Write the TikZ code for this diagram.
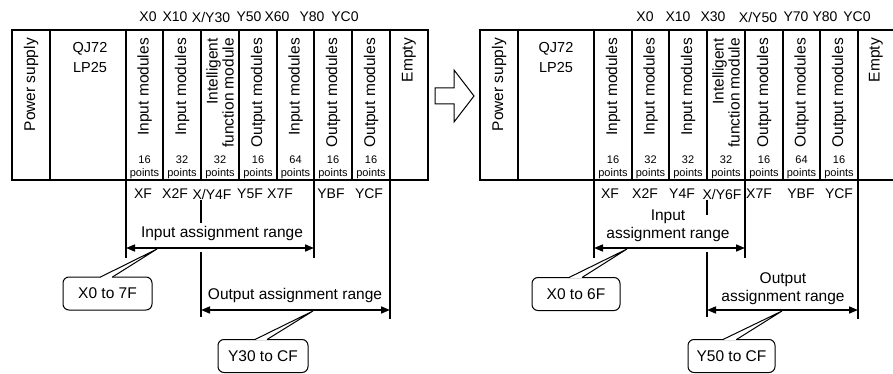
\documentclass[tikz,border=0pt]{standalone}
\usepackage{fontspec}
\setmainfont{Liberation Sans}
\usetikzlibrary{arrows.meta,calc}
\begin{document}
\begin{tikzpicture}[x=1pt,y=-1pt,
  rack/.style={line width=1.3pt},
  mod/.style={rotate=90, anchor=east, inner sep=0pt, align=right, font=\fontsize{15.5}{16}\selectfont},
  cpu/.style={inner sep=0pt, align=center, font=\fontsize{14.5}{20}\selectfont},
  addr/.style={inner sep=0pt, font=\fontsize{14}{16}\selectfont},
  pts/.style={inner sep=0pt, anchor=south, align=center, font=\fontsize{11}{13.5}\selectfont},
  rng/.style={line width=1.6pt},
  rarrow/.style={line width=1.6pt, {Triangle[length=9pt,width=7pt]}-{Triangle[length=9pt,width=7pt]}},
  rtext/.style={inner sep=0pt, align=center, font=\fontsize{15.5}{18}\selectfont},
  callout/.style={draw, rounded corners=6pt, line width=1pt, fill=white, outer sep=0pt,
    minimum height=33pt, font=\fontsize{15.5}{18}\selectfont},
  tail/.style={line width=1pt, line join=miter},
  gap/.style={white, line width=1.8pt}
]
\useasboundingbox (0,0) rectangle (893,374);

% ---------- left rack ----------
\draw[rack] (12,30) rectangle (428,180);
\foreach \x in {50,126,163,201,239,277,314,352,390} \draw[rack] (\x,30) -- (\x,180);
\node[mod] (lps) at (31,38) {Power supply};
\node[cpu] (lcpu) at (90,58) {QJ72\\LP25};
\node[mod] (lm1) at (144.5,38) {Input modules};
\node[mod] (lm2) at (182,38) {Input modules};
\node[mod] (lm3) at (220,38) {Intelligent\\function module};
\node[mod] (lm4) at (258,38) {Output modules};
\node[mod] (lm5) at (295.5,38) {Input modules};
\node[mod] (lm6) at (333,38) {Output modules};
\node[mod] (lm7) at (371,38) {Output modules};
\node[mod] (lm8) at (409,38) {Empty};
\node[pts] (lp1) at (144.5,179) {16\\points};
\node[pts] (lp2) at (182,179) {32\\points};
\node[pts] (lp3) at (220,179) {32\\points};
\node[pts] (lp4) at (258,179) {16\\points};
\node[pts] (lp5) at (295.5,179) {64\\points};
\node[pts] (lp6) at (333,179) {16\\points};
\node[pts] (lp7) at (371,179) {16\\points};
% top addresses
\node[addr] (lt1) at (148,17) {X0};
\node[addr] (lt2) at (175,17) {X10};
\node[addr] (lt3) at (211,17) {X/Y30};
\node[addr] (lt4) at (249,17) {Y50};
\node[addr] (lt5) at (277,17) {X60};
\node[addr] (lt6) at (312,17) {Y80};
\node[addr] (lt7) at (345,17) {YC0};
% bottom addresses
\node[addr] (lb1) at (143,194) {XF};
\node[addr] (lb2) at (175,194) {X2F};
\node[addr] (lb3) at (212,194) {X/Y4F};
\node[addr] (lb4) at (250,194) {Y5F};
\node[addr] (lb5) at (280,194) {X7F};
\node[addr] (lb6) at (331,194) {YBF};
\node[addr] (lb7) at (369,194) {YCF};
% ranges
\draw[rng] (126,180) -- (126,258);
\draw[rng] (314,180) -- (314,258);
\draw[rng] (390,180) -- (390,319);
\draw[rng] (201,200) -- (201,223);
\draw[rng] (201,252) -- (201,317);
\coordinate (li1) at (126,248); \coordinate (li2) at (314,248);
\coordinate (lo1) at (201,310); \coordinate (lo2) at (390,310);
\draw[rarrow] (li1) -- (li2);
\draw[rarrow] (lo1) -- (lo2);
\node[rtext] (lrin) at (222,233) {Input assignment range};
\node[rtext] (lrout) at (295,295) {Output assignment range};
% callouts
\node[callout, minimum width=89pt] (c1) at (107.5,293.5) {X0 to 7F};
\coordinate (t1) at (157,249);
\draw[gap] ($(c1.north)+(-6.5,0)$) -- ($(c1.north)+(4.5,0)$);
\draw[tail] ($(c1.north)+(-7,0)$) -- (t1) -- ($(c1.north)+(5,0)$);
\node[callout, minimum width=90pt] (c2) at (263,356) {Y30 to CF};
\coordinate (t2) at (313,311);
\draw[gap] ($(c2.north)+(-7.5,0)$) -- ($(c2.north)+(3.5,0)$);
\draw[tail] ($(c2.north)+(-8,0)$) -- (t2) -- ($(c2.north)+(4,0)$);

% ---------- hollow arrow ----------
\draw[line width=1pt, line join=miter] (435,88) -- (454,88) -- (454,70) -- (474,96)
  -- (454,122) -- (454,104) -- (435,104) -- cycle;

% ---------- right rack ----------
\draw[rack] (893,30) -- (480,30) -- (480,180) -- (893,180);
\foreach \x in {518,594,632,669,707,745,783,820,858} \draw[rack] (\x,30) -- (\x,180);
\node[mod] (rps) at (499,38) {Power supply};
\node[cpu] (rcpu) at (556,58) {QJ72\\LP25};
\node[mod] (rm1) at (613,38) {Input modules};
\node[mod] (rm2) at (650.5,38) {Input modules};
\node[mod] (rm3) at (688,38) {Input modules};
\node[mod] (rm4) at (726,38) {Intelligent\\function module};
\node[mod] (rm5) at (764,38) {Output modules};
\node[mod] (rm6) at (801.5,38) {Output modules};
\node[mod] (rm7) at (839,38) {Output modules};
\node[mod] (rm8) at (876,38) {Empty};
\node[pts] (rp1) at (613,179) {16\\points};
\node[pts] (rp2) at (650.5,179) {32\\points};
\node[pts] (rp3) at (688,179) {32\\points};
\node[pts] (rp4) at (726,179) {32\\points};
\node[pts] (rp5) at (764,179) {16\\points};
\node[pts] (rp6) at (801.5,179) {64\\points};
\node[pts] (rp7) at (839,179) {16\\points};
\node[addr] (rt1) at (645,17) {X0};
\node[addr] (rt2) at (678,17) {X10};
\node[addr] (rt3) at (713,17) {X30};
\node[addr] (rt4) at (758,17) {X/Y50};
\node[addr] (rt5) at (796,17) {Y70};
\node[addr] (rt6) at (825,17) {Y80};
\node[addr] (rt7) at (857,17) {YC0};
\node[addr] (rb1) at (610,194) {XF};
\node[addr] (rb2) at (645,194) {X2F};
\node[addr] (rb3) at (682,194) {Y4F};
\node[addr] (rb4) at (722,194) {X/Y6F};
\node[addr] (rb5) at (759,194) {X7F};
\node[addr] (rb6) at (801,194) {YBF};
\node[addr] (rb7) at (839,194) {YCF};
\draw[rng] (594,180) -- (594,258);
\draw[rng] (745,180) -- (745,258);
\draw[rng] (858,180) -- (858,319);
\draw[rng] (707,200) -- (707,215);
\draw[rng] (707,252) -- (707,317);
\coordinate (ri1) at (594,248); \coordinate (ri2) at (745,248);
\coordinate (ro1) at (707,310); \coordinate (ro2) at (858,310);
\draw[rarrow] (ri1) -- (ri2);
\draw[rarrow] (ro1) -- (ro2);
\node[rtext] (rrin) at (668,226) {Input\\assignment range};
\node[rtext] (rrout) at (783,288.5) {Output\\assignment range};
\node[callout, minimum width=88pt] (c3) at (576,294) {X0 to 6F};
\coordinate (t3) at (627,249);
\draw[gap] ($(c3.north)+(-6.5,0)$) -- ($(c3.north)+(5.5,0)$);
\draw[tail] ($(c3.north)+(-7,0)$) -- (t3) -- ($(c3.north)+(6,0)$);
\node[callout, minimum width=87pt] (c4) at (731.5,356) {Y50 to CF};
\coordinate (t4) at (782,311);
\draw[gap] ($(c4.north)+(-8,0)$) -- ($(c4.north)+(4.5,0)$);
\draw[tail] ($(c4.north)+(-8.5,0)$) -- (t4) -- ($(c4.north)+(5,0)$);
\end{tikzpicture}
\end{document}
